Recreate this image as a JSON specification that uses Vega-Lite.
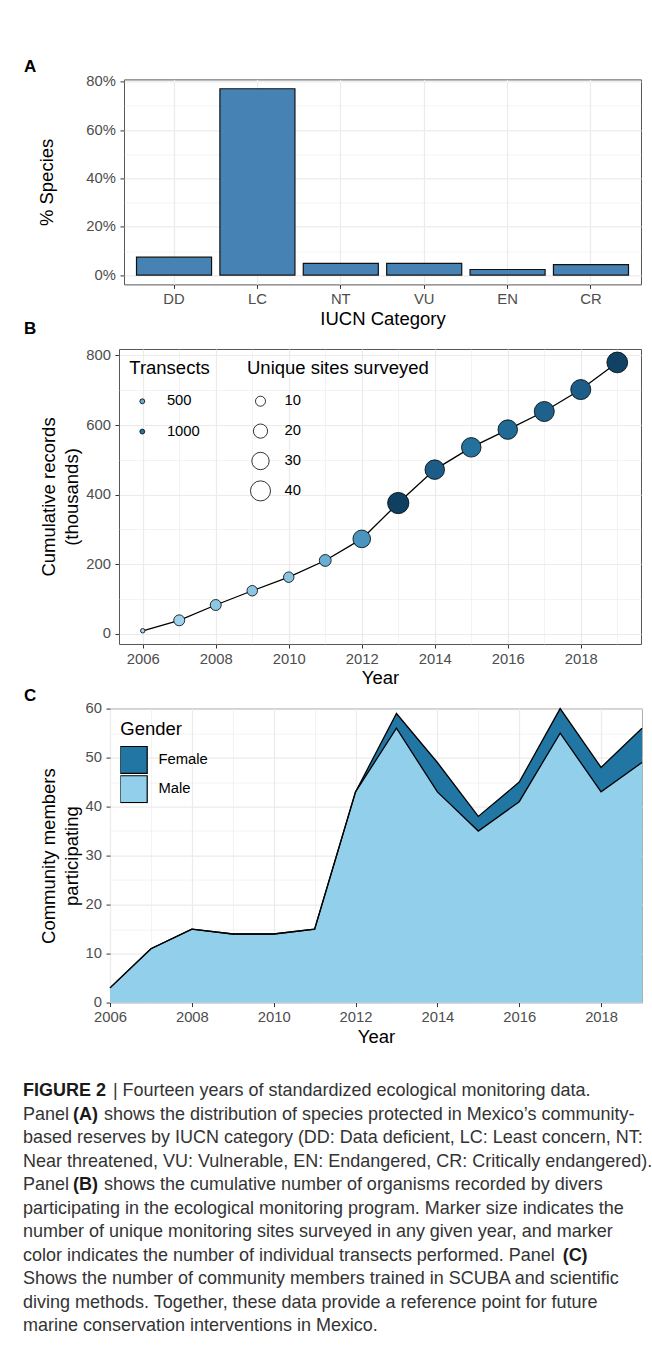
{
  "$schema": "https://vega.github.io/schema/vega-lite/v6.json",
  "background": "white",
  "padding": {"left": 22, "top": 57.4, "right": 4, "bottom": 4},
  "datasets": {
    "iucn": [
      {"category": "DD", "pct": 7.4},
      {"category": "LC", "pct": 77.1},
      {"category": "NT", "pct": 4.8},
      {"category": "VU", "pct": 4.8},
      {"category": "EN", "pct": 2.3},
      {"category": "CR", "pct": 4.3}
    ],
    "records": [
      {"year": 2006, "records": 9, "transects": 80, "sites": 2},
      {"year": 2007, "records": 39, "transects": 125, "sites": 12},
      {"year": 2008, "records": 83, "transects": 230, "sites": 12},
      {"year": 2009, "records": 124, "transects": 240, "sites": 11},
      {"year": 2010, "records": 163, "transects": 270, "sites": 11},
      {"year": 2011, "records": 211, "transects": 480, "sites": 14},
      {"year": 2012, "records": 273, "transects": 700, "sites": 31},
      {"year": 2013, "records": 376, "transects": 1550, "sites": 45},
      {"year": 2014, "records": 472, "transects": 1200, "sites": 38},
      {"year": 2015, "records": 536, "transects": 990, "sites": 38},
      {"year": 2016, "records": 587, "transects": 1065, "sites": 38},
      {"year": 2017, "records": 639, "transects": 1155, "sites": 40},
      {"year": 2018, "records": 702, "transects": 1185, "sites": 40},
      {"year": 2019, "records": 780, "transects": 1520, "sites": 43}
    ],
    "community": [
      {"year": 2006, "gender": "Male", "count": 3}, {"year": 2006, "gender": "Female", "count": 0},
      {"year": 2007, "gender": "Male", "count": 11}, {"year": 2007, "gender": "Female", "count": 0},
      {"year": 2008, "gender": "Male", "count": 15}, {"year": 2008, "gender": "Female", "count": 0},
      {"year": 2009, "gender": "Male", "count": 14}, {"year": 2009, "gender": "Female", "count": 0},
      {"year": 2010, "gender": "Male", "count": 14}, {"year": 2010, "gender": "Female", "count": 0},
      {"year": 2011, "gender": "Male", "count": 15}, {"year": 2011, "gender": "Female", "count": 0},
      {"year": 2012, "gender": "Male", "count": 43}, {"year": 2012, "gender": "Female", "count": 0},
      {"year": 2013, "gender": "Male", "count": 56}, {"year": 2013, "gender": "Female", "count": 3},
      {"year": 2014, "gender": "Male", "count": 43}, {"year": 2014, "gender": "Female", "count": 6},
      {"year": 2015, "gender": "Male", "count": 35}, {"year": 2015, "gender": "Female", "count": 3},
      {"year": 2016, "gender": "Male", "count": 41}, {"year": 2016, "gender": "Female", "count": 4},
      {"year": 2017, "gender": "Male", "count": 55}, {"year": 2017, "gender": "Female", "count": 5},
      {"year": 2018, "gender": "Male", "count": 43}, {"year": 2018, "gender": "Female", "count": 5},
      {"year": 2019, "gender": "Male", "count": 49}, {"year": 2019, "gender": "Female", "count": 7}
    ],
    "caption": [
      {"line": 1, "text": "\u200b\u00a0\u00a0\u00a0\u00a0\u00a0\u00a0\u00a0\u00a0\u00a0\u00a0\u00a0\u00a0\u00a0\u00a0\u00a0\u00a0\u00a0 | Fourteen years of standardized ecological monitoring data."},
      {"line": 2, "text": "Panel \u00a0\u00a0\u00a0\u00a0\u00a0 shows the distribution of species protected in Mexico\u2019s community-"},
      {"line": 3, "text": "based reserves by IUCN category (DD: Data deficient, LC: Least concern, NT:"},
      {"line": 4, "text": "Near threatened, VU: Vulnerable, EN: Endangered, CR: Critically endangered)."},
      {"line": 5, "text": "Panel \u00a0\u00a0\u00a0\u00a0\u00a0 shows the cumulative number of organisms recorded by divers"},
      {"line": 6, "text": "participating in the ecological monitoring program. Marker size indicates the"},
      {"line": 7, "text": "number of unique monitoring sites surveyed in any given year, and marker"},
      {"line": 8, "text": "color indicates the number of individual transects performed. Panel"},
      {"line": 9, "text": "Shows the number of community members trained in SCUBA and scientific"},
      {"line": 10, "text": "diving methods. Together, these data provide a reference point for future"},
      {"line": 11, "text": "marine conservation interventions in Mexico."}
    ],
    "captionBold": [
      {"line": 1, "text": "FIGURE 2"},
      {"line": 2, "text": "\u200b\u00a0\u00a0\u00a0\u00a0\u00a0\u00a0\u00a0\u00a0\u00a0\u00a0(A)"},
      {"line": 5, "text": "\u200b\u00a0\u00a0\u00a0\u00a0\u00a0\u00a0\u00a0\u00a0\u00a0\u00a0(B)"},
      {"line": 8, "text": "\u200b\u00a0\u00a0\u00a0\u00a0\u00a0\u00a0\u00a0\u00a0\u00a0\u00a0\u00a0\u00a0\u00a0\u00a0\u00a0\u00a0\u00a0\u00a0\u00a0\u00a0\u00a0\u00a0\u00a0\u00a0\u00a0\u00a0\u00a0\u00a0\u00a0\u00a0\u00a0\u00a0\u00a0\u00a0\u00a0\u00a0\u00a0\u00a0\u00a0\u00a0\u00a0\u00a0\u00a0\u00a0\u00a0\u00a0\u00a0\u00a0\u00a0\u00a0\u00a0\u00a0\u00a0\u00a0\u00a0\u00a0\u00a0\u00a0\u00a0\u00a0\u00a0\u00a0\u00a0\u00a0\u00a0\u00a0\u00a0\u00a0\u00a0\u00a0\u00a0\u00a0\u00a0\u00a0\u00a0\u00a0\u00a0\u00a0\u00a0\u00a0\u00a0\u00a0\u00a0\u00a0\u00a0\u00a0\u00a0\u00a0\u00a0\u00a0\u00a0\u00a0\u00a0\u00a0\u00a0\u00a0\u00a0\u00a0\u00a0\u00a0\u00a0\u00a0\u00a0\u00a0\u00a0\u00a0\u00a0\u00a0(C)"}
    ]
  },
  "columns": 2,
  "align": "none",
  "bounds": "full",
  "spacing": {"row": -9.4, "column": 0},
  "resolve": {
    "scale": {"fill": "independent", "size": "independent"},
    "legend": {"fill": "independent", "size": "independent"}
  },
  "concat": [
    {"width": 1, "height": 1, "view": {"stroke": null}, "data": {"values": []}, "mark": {"type": "point", "opacity": 0}},
    {
      "width": 517,
      "height": 205,
      "title": {"text": "A", "anchor": "start", "frame": "group", "dx": -100, "offset": -2.6, "baseline": "top", "fontSize": 17, "fontWeight": "bold", "color": "#000000", "font": "Liberation Sans"},
      "data": {"name": "iucn"},
      "mark": {"type": "bar", "fill": "#4682B4", "stroke": "#111111", "strokeWidth": 1.2},
      "encoding": {
        "x": {
          "field": "category", "type": "nominal", "sort": ["DD", "LC", "NT", "VU", "EN", "CR"],
          "scale": {"paddingInner": 0.1, "paddingOuter": 0.15},
          "axis": {"title": "IUCN Category", "labelAngle": 0, "grid": true, "gridWidth": 1.2, "bandPosition": 0.5, "titlePadding": 3}
        },
        "y": {
          "field": "pct", "type": "quantitative",
          "scale": {"domain": [-3.86, 80.96], "nice": false, "zero": false},
          "axis": {
            "title": "% Species",
            "values": [0, 10, 20, 30, 40, 50, 60, 70, 80],
            "labelExpr": "datum.value % 20 === 0 ? datum.value + '%' : ''",
            "tickOpacity": {"condition": {"test": "datum.value % 20 === 0", "value": 1}, "value": 0},
            "gridWidth": {"condition": {"test": "datum.value % 20 === 0", "value": 1.2}, "value": 0.6},
            "labelPadding": 4.6,
            "titlePadding": 29.6
          }
        }
      }
    },
    {"width": 1, "height": 1, "view": {"stroke": null}, "data": {"values": []}, "mark": {"type": "point", "opacity": 0}},
    {
      "width": 522,
      "height": 295,
      "title": {"text": "B", "anchor": "start", "frame": "group", "dx": -95, "offset": 9.8, "baseline": "top", "fontSize": 17, "fontWeight": "bold", "color": "#000000", "font": "Liberation Sans"},
      "data": {"name": "records"},
      "encoding": {
        "x": {
          "field": "year", "type": "quantitative",
          "scale": {"domain": [2005.35, 2019.65], "nice": false, "zero": false},
          "axis": {
            "title": ["Year", "\u200b"], "titleLineHeight": 7.1, "format": "d",
            "values": [2006, 2007, 2008, 2009, 2010, 2011, 2012, 2013, 2014, 2015, 2016, 2017, 2018, 2019],
            "labelExpr": "datum.value % 2 === 0 ? datum.label : ''",
            "tickOpacity": {"condition": {"test": "datum.value % 2 === 0", "value": 1}, "value": 0},
            "gridWidth": {"condition": {"test": "datum.value % 2 === 0", "value": 1.2}, "value": 0.6},
            "titlePadding": 3
          }
        },
        "y": {
          "field": "records", "type": "quantitative",
          "scale": {"domain": [-29, 818.6], "nice": false, "zero": false},
          "axis": {
            "title": ["Cumulative records", "(thousands)"],
            "titleLineHeight": 22.4,
            "values": [0, 100, 200, 300, 400, 500, 600, 700, 800],
            "labelExpr": "datum.value % 200 === 0 ? datum.label : ''",
            "tickOpacity": {"condition": {"test": "datum.value % 200 === 0", "value": 1}, "value": 0},
            "gridWidth": {"condition": {"test": "datum.value % 200 === 0", "value": 1.2}, "value": 0.6},
            "labelPadding": 4.6,
            "titlePadding": 4.5
          }
        }
      },
      "layer": [
        {"mark": {"type": "line", "color": "#000000", "strokeWidth": 1.3}},
        {
          "mark": {"type": "point", "filled": true, "stroke": "#000000", "strokeWidth": 0.8, "opacity": 1},
          "encoding": {
            "fill": {
              "field": "transects", "type": "quantitative",
              "scale": {"domain": [80, 480, 700, 990, 1200, 1550], "range": ["#a4d6ee", "#6aaed3", "#4a94c0", "#23729e", "#1d5c87", "#0e4062"], "interpolate": "rgb"},
              "legend": {
                "title": "Transects", "type": "symbol", "values": [500, 1000], "format": "d",
                "orient": "none", "legendX": 5.3, "legendY": 5.5, "padding": 5,
                "symbolType": "circle", "symbolSize": 24, "symbolOffset": 5.6, "labelOffset": 17.2,
                "clipHeight": 15, "rowPadding": 14.3, "titlePadding": 15.8, "direction": "vertical",
                "symbolStrokeColor": "#000000", "symbolStrokeWidth": 0.8,
                "encode": {"symbols": {"update": {"stroke": {"value": "#000000"}, "strokeWidth": {"value": 0.8}, "opacity": {"value": 1}}}}
              }
            },
            "size": {
              "field": "sites", "type": "quantitative",
              "scale": {"domain": [0, 45], "range": [0, 452], "zero": true},
              "legend": {
                "title": "Unique sites surveyed", "values": [10, 20, 30, 40], "titleLimit": 400,
                "orient": "none", "legendX": 123, "legendY": 5.5, "padding": 5,
                "symbolType": "circle", "symbolOffset": 3, "labelOffset": 13.6,
                "clipHeight": 23.4, "rowPadding": 5.9, "titlePadding": 11.5,
                "symbolFillColor": "white", "symbolStrokeColor": "#000000", "symbolStrokeWidth": 0.8,
                "encode": {"symbols": {"update": {"fill": {"value": "white"}, "stroke": {"value": "#000000"}, "strokeWidth": {"value": 0.8}, "opacity": {"value": 1}}}}
              }
            }
          }
        }
      ]
    },
    {"width": 1, "height": 1, "view": {"stroke": null}, "data": {"values": []}, "mark": {"type": "point", "opacity": 0}},
    {
      "width": 532,
      "height": 294,
      "title": {"text": "C", "anchor": "start", "frame": "group", "dx": -86, "offset": -4.2, "baseline": "top", "fontSize": 17, "fontWeight": "bold", "color": "#000000", "font": "Liberation Sans"},
      "data": {"name": "community"},
      "transform": [
        {"stack": "count", "groupby": ["year"], "sort": [{"field": "gender", "order": "descending"}], "as": ["y0", "y1"]}
      ],
      "encoding": {
        "x": {
          "field": "year", "type": "quantitative",
          "scale": {"domain": [2006, 2019], "nice": false, "zero": false},
          "axis": {
            "title": "Year", "format": "d",
            "values": [2006, 2007, 2008, 2009, 2010, 2011, 2012, 2013, 2014, 2015, 2016, 2017, 2018, 2019],
            "labelExpr": "datum.value % 2 === 0 ? datum.label : ''",
            "tickOpacity": {"condition": {"test": "datum.value % 2 === 0", "value": 1}, "value": 0},
            "gridWidth": {"condition": {"test": "datum.value % 2 === 0", "value": 1.2}, "value": 0.6},
            "titlePadding": 3
          }
        },
        "y": {
          "field": "y1", "type": "quantitative",
          "scale": {"domain": [0, 60], "nice": false, "zero": false},
          "axis": {
            "title": ["Community members", "participating"],
            "titleLineHeight": 22.4,
            "values": [0, 5, 10, 15, 20, 25, 30, 35, 40, 45, 50, 55, 60],
            "labelExpr": "datum.value % 10 === 0 ? datum.label : ''",
            "tickOpacity": {"condition": {"test": "datum.value % 10 === 0", "value": 1}, "value": 0},
            "gridWidth": {"condition": {"test": "datum.value % 10 === 0", "value": 1.2}, "value": 0.6},
            "labelPadding": 4.6,
            "titlePadding": 3.7
          }
        }
      },
      "layer": [
        {
          "mark": {"type": "area", "opacity": 1},
          "encoding": {
            "y2": {"field": "y0"},
            "fill": {
              "field": "gender", "type": "nominal",
              "scale": {"domain": ["Female", "Male"], "range": ["#2176a3", "#92cfea"]},
              "legend": {
                "title": "Gender", "orient": "none", "legendX": 5.3, "legendY": 6, "padding": 5,
                "symbolType": "square", "symbolSize": 729, "symbolOffset": -1.1, "labelOffset": 10.3,
                "clipHeight": 28, "rowPadding": 1.3, "titlePadding": 7.8,
                "symbolStrokeColor": "#000000", "symbolStrokeWidth": 1.2,
                "encode": {"symbols": {"update": {"stroke": {"value": "#000000"}, "strokeWidth": {"value": 1.2}, "opacity": {"value": 1}}}}
              }
            }
          }
        },
        {
          "mark": {"type": "line", "color": "#000000", "strokeWidth": 1.3},
          "encoding": {"detail": {"field": "gender"}}
        }
      ]
    },
    {"width": 1, "height": 1, "view": {"stroke": null}, "data": {"values": []}, "mark": {"type": "point", "opacity": 0}},
    {
      "width": 620,
      "height": 289.2,
      "view": {"stroke": null},
      "encoding": {
        "x": {"datum": 0, "type": "quantitative", "scale": {"domain": [0, 1]}, "axis": null},
        "y": {"field": "line", "type": "quantitative", "scale": {"domain": [-1.306, 11], "reverse": true, "nice": false, "zero": false}, "axis": null},
        "text": {"field": "text"}
      },
      "layer": [
        {
          "data": {"name": "caption"},
          "mark": {"type": "text", "align": "left", "baseline": "middle", "font": "Liberation Sans", "fontSize": 18, "color": "#333333"}
        },
        {
          "data": {"name": "captionBold"},
          "mark": {"type": "text", "align": "left", "baseline": "middle", "font": "Liberation Sans", "fontSize": 18, "fontWeight": "bold", "color": "#1a1a1a"}
        }
      ]
    }
  ],
  "config": {
    "font": "Liberation Sans",
    "view": {"stroke": "#555555", "strokeWidth": 1},
    "axis": {
      "labelFont": "Liberation Sans", "labelFontSize": 14.8, "labelColor": "#4D4D4D", "labelPadding": 3.1,
      "labelFlush": false, "labelOverlap": false,
      "titleFont": "Liberation Sans", "titleFontSize": 18.5, "titleFontWeight": "normal", "titleColor": "#000000",
      "tickColor": "#333333", "tickSize": 4, "tickWidth": 1,
      "domain": false, "gridColor": "#EBEBEB", "minExtent": 0
    },
    "legend": {
      "titleFont": "Liberation Sans", "titleFontSize": 18.5, "titleFontWeight": "normal", "titleColor": "#000000",
      "labelFont": "Liberation Sans", "labelFontSize": 14.8, "labelColor": "#000000"
    }
  }
}
